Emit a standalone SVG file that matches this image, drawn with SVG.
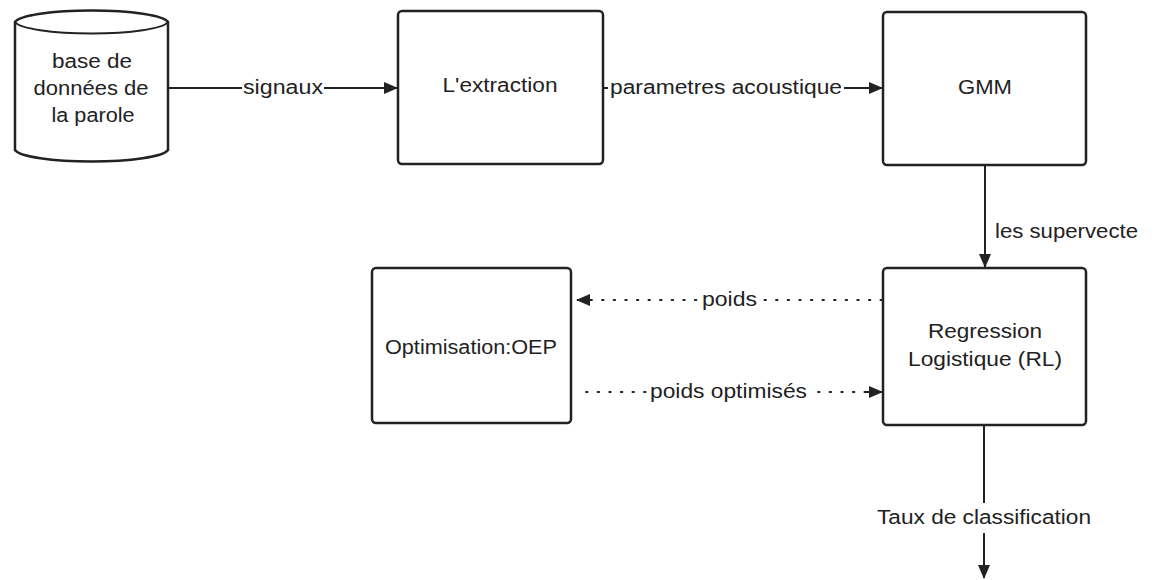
<svg xmlns="http://www.w3.org/2000/svg" width="1154" height="580" viewBox="0 0 1154 580">
<defs>
<marker id="ah" viewBox="0 0 14 12" refX="13" refY="6" markerWidth="14" markerHeight="12" markerUnits="userSpaceOnUse" orient="auto">
<path d="M0,0 L14,6 L0,12 Z" fill="#222"/>
</marker>
</defs>
<style>
.box{fill:#fff;stroke:#222;stroke-width:2.5}
.t{font-family:"Liberation Sans",Arial,sans-serif;font-size:20px;fill:#222;text-anchor:middle}
.c{stroke:#222;stroke-width:2;fill:none}
.d{stroke:#222;stroke-width:1.8;fill:none;stroke-dasharray:1.6 10;stroke-linecap:round}
.lbl{fill:#fff}
</style>
<rect width="1154" height="580" fill="#fff"/>
<g id="connectors">
<line class="c" x1="168" y1="88" x2="397" y2="88" marker-end="url(#ah)"/>
<rect class="lbl" x="242" y="76" width="82" height="22"/>
<text class="t" x="283" y="94" textLength="80" lengthAdjust="spacingAndGlyphs">signaux</text>
<line class="c" x1="603" y1="88" x2="882" y2="88" marker-end="url(#ah)"/>
<rect class="lbl" x="608" y="76" width="236" height="22"/>
<text class="t" x="726" y="94" textLength="232" lengthAdjust="spacingAndGlyphs">parametres acoustique</text>
<line class="c" x1="985" y1="165" x2="985" y2="267" marker-end="url(#ah)"/>
<text class="t" x="995" y="238" style="text-anchor:start" textLength="143" lengthAdjust="spacingAndGlyphs">les supervecte</text>
<line class="d" x1="882" y1="300" x2="590" y2="300"/>
<line class="c" x1="590" y1="300" x2="577" y2="300" marker-end="url(#ah)"/>
<rect class="lbl" x="700" y="288" width="59" height="22"/>
<text class="t" x="729.5" y="306" textLength="55" lengthAdjust="spacingAndGlyphs">poids</text>
<line class="d" x1="586" y1="392" x2="870" y2="392"/>
<line class="c" x1="866" y1="392" x2="882" y2="392" marker-end="url(#ah)"/>
<rect class="lbl" x="648" y="380" width="161" height="22"/>
<text class="t" x="728.5" y="398" textLength="157" lengthAdjust="spacingAndGlyphs">poids optimisés</text>
<line class="c" x1="984" y1="425" x2="984" y2="578" marker-end="url(#ah)"/>
<rect class="lbl" x="872" y="503" width="224" height="30"/>
<text class="t" x="984" y="524" textLength="214" lengthAdjust="spacingAndGlyphs">Taux de classification</text>
</g>
<g id="db">
<path class="box" d="M15,22 L15,150 A77,13 0 0 0 168,150 L168,22 A77,13 0 0 0 15,22 Z"/>
<path class="c" d="M15,22 A77,13 0 0 0 168,22" stroke-width="2.5"/>
<text class="t" x="92" y="68" textLength="80" lengthAdjust="spacingAndGlyphs">base de</text>
<text class="t" x="91" y="95" textLength="115" lengthAdjust="spacingAndGlyphs">données de</text>
<text class="t" x="93" y="122" textLength="83" lengthAdjust="spacingAndGlyphs">la parole</text>
</g>
<g id="extraction">
<rect class="box" x="398" y="11" width="205" height="153" rx="4"/>
<text class="t" x="500" y="92" textLength="115" lengthAdjust="spacingAndGlyphs">L'extraction</text>
</g>
<g id="gmm">
<rect class="box" x="883" y="12" width="203" height="153" rx="4"/>
<text class="t" x="985" y="94" textLength="54" lengthAdjust="spacingAndGlyphs">GMM</text>
</g>
<g id="rl">
<rect class="box" x="883" y="268" width="203" height="157" rx="4"/>
<text class="t" x="985" y="338" textLength="114" lengthAdjust="spacingAndGlyphs">Regression</text>
<text class="t" x="985" y="366" textLength="154" lengthAdjust="spacingAndGlyphs">Logistique (RL)</text>
</g>
<g id="opt">
<rect class="box" x="372" y="268" width="199" height="155" rx="4"/>
<text class="t" x="471" y="354" textLength="172" lengthAdjust="spacingAndGlyphs">Optimisation:OEP</text>
</g>
</svg>
